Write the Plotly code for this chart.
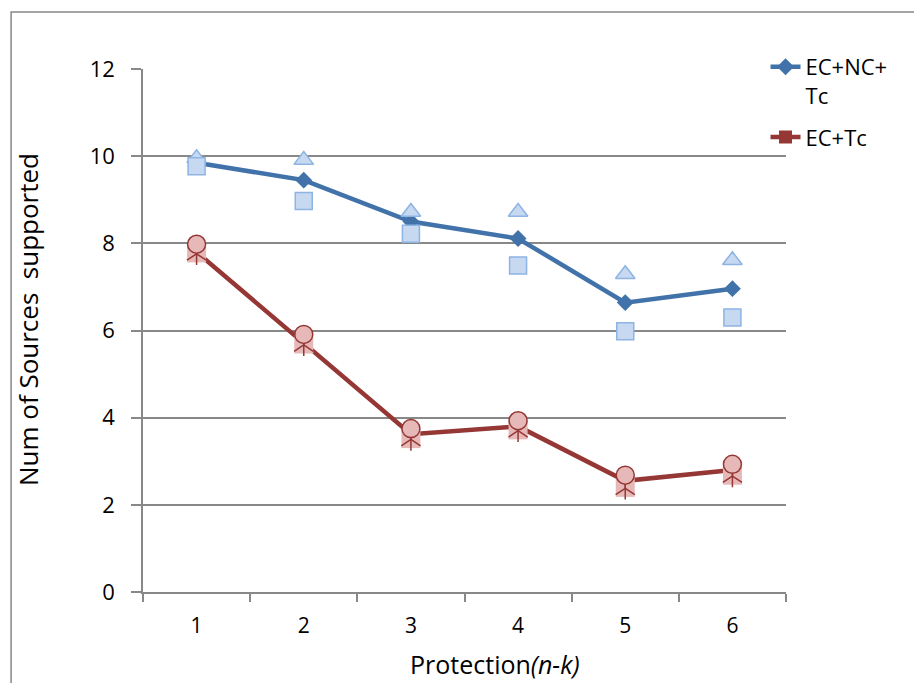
import plotly.graph_objects as go

categories = [1, 2, 3, 4, 5, 6]
tick_labels = ["1", "2", "3", "4", "5", "6"]

# EC+NC+Tc group
blue_line = [9.85, 9.45, 8.50, 8.11, 6.64, 6.96]
blue_tri = [9.95, 9.91, 8.72, 8.72, 7.29, 7.61]
blue_sq = [9.77, 8.97, 8.22, 7.49, 5.98, 6.30]

# EC+Tc group
red_line = [7.80, 5.72, 3.62, 3.80, 2.55, 2.80]
red_circle = [7.98, 5.91, 3.75, 3.93, 2.68, 2.93]
red_sq = [7.78, 5.69, 3.52, 3.72, 2.40, 2.68]
red_star = [7.76, 5.67, 3.50, 3.70, 2.38, 2.66]

BLUE = "#4172A9"
LBLUE_FILL = "#C6D9F1"
LBLUE_LINE = "#8DB4E3"
RED = "#953735"
PINK = "#E6B9B8"
GRID = "#888888"
FONT = "Open Sans"

W, H = 914, 683
ML, MR, MT, MB = 143, 127.5, 69, 91
PW = W - ML - MR
PH = H - MT - MB


def px_to_paper_x(px):
    return (px - ML) / PW


def px_to_paper_y(py):
    return (H - MB - py) / PH


fig = go.Figure()

fig.add_trace(go.Scatter(
    x=categories, y=blue_line, mode="lines+markers", name="EC+NC+<br>Tc",
    legendgroup="a",
    line=dict(color=BLUE, width=4.5),
    marker=dict(symbol="diamond", size=13, color=BLUE),
))
fig.add_trace(go.Scatter(
    x=categories, y=blue_tri, mode="markers", showlegend=False, legendgroup="a",
    marker=dict(symbol="triangle-up", size=17, color=LBLUE_FILL,
                line=dict(color=LBLUE_LINE, width=1.5)),
))
fig.add_trace(go.Scatter(
    x=categories, y=blue_sq, mode="markers", showlegend=False, legendgroup="a",
    marker=dict(symbol="square", size=17, color=LBLUE_FILL,
                line=dict(color=LBLUE_LINE, width=1.5)),
))

fig.add_trace(go.Scatter(
    x=categories, y=red_line, mode="lines+markers", name="EC+Tc",
    legendgroup="b",
    line=dict(color=RED, width=4.5),
    marker=dict(symbol="square", size=13, color=RED),
))
fig.add_trace(go.Scatter(
    x=categories, y=red_sq, mode="markers", showlegend=False, legendgroup="b",
    marker=dict(symbol="square", size=19, color=PINK, line=dict(width=0)),
))
fig.add_trace(go.Scatter(
    x=categories, y=red_star, mode="markers", showlegend=False, legendgroup="b",
    marker=dict(symbol="y-up-open", size=16, color=RED,
                line=dict(color=RED, width=1.5)),
))
fig.add_trace(go.Scatter(
    x=categories, y=red_star, mode="markers", showlegend=False, legendgroup="b",
    marker=dict(symbol="line-ns-open", size=16, color=RED,
                line=dict(color=RED, width=1.5)),
))
fig.add_trace(go.Scatter(
    x=categories, y=red_circle, mode="markers", showlegend=False, legendgroup="b",
    marker=dict(symbol="circle", size=18, color=PINK,
                line=dict(color=RED, width=1.5)),
))

fig.update_layout(
    width=W, height=H,
    margin=dict(l=ML, r=MR, t=MT, b=MB),
    paper_bgcolor="white", plot_bgcolor="white",
    font=dict(family=FONT, size=22, color="black"),
    showlegend=True,
    legend=dict(
        x=px_to_paper_x(766), y=px_to_paper_y(46), xanchor="left", yanchor="top",
        font=dict(family=FONT, size=22, color="black"),
        bgcolor="rgba(0,0,0,0)", borderwidth=0, valign="top",
        traceorder="grouped", tracegroupgap=10, itemwidth=30,
    ),
    xaxis=dict(
        range=[0.5, 6.5], tickmode="array", tickvals=categories, ticktext=tick_labels,
        ticks="", showgrid=False, zeroline=False,
        showline=True, linecolor=GRID, linewidth=1.5,
        tickfont=dict(family=FONT, size=21), ticklabelstandoff=14,
        minor=dict(tickmode="array", tickvals=[0.5, 1.5, 2.5, 3.5, 4.5, 5.5, 6.5],
                   ticks="outside", ticklen=8, tickwidth=1.5, tickcolor=GRID, showgrid=False),
        fixedrange=True,
    ),
    yaxis=dict(
        range=[0, 12], tickmode="array", tickvals=[0, 2, 4, 6, 8, 10, 12],
        ticks="outside", ticklen=10, tickwidth=1.5, tickcolor=GRID,
        showgrid=True, gridcolor=GRID, gridwidth=1.5, zeroline=False,
        showline=True, linecolor=GRID, linewidth=1.5,
        tickfont=dict(family=FONT, size=22), ticklabelstandoff=12,
        fixedrange=True,
    ),
    annotations=[
        dict(text="Num of Sources  supported", xref="paper", yref="paper",
             x=px_to_paper_x(28), y=px_to_paper_y(320), textangle=-90,
             showarrow=False, xanchor="center", yanchor="middle",
             font=dict(family=FONT, size=26)),
        dict(text="Protection<i>(n-k)</i>", xref="paper", yref="paper",
             x=px_to_paper_x(495), y=px_to_paper_y(664),
             showarrow=False, xanchor="center", yanchor="middle",
             font=dict(family=FONT, size=25)),
    ],
    shapes=[
        dict(type="rect", xref="paper", yref="paper",
             x0=px_to_paper_x(11), x1=px_to_paper_x(940),
             y0=px_to_paper_y(720), y1=px_to_paper_y(12),
             line=dict(color=GRID, width=1.5), fillcolor="rgba(0,0,0,0)", layer="below"),
    ],
)

fig.write_html("out.html")
